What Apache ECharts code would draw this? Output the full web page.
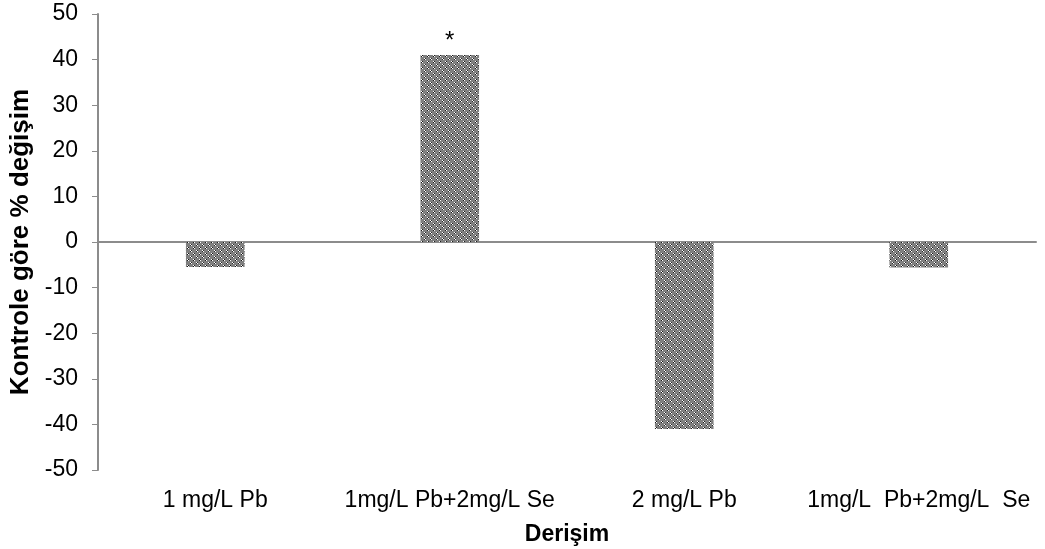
<!DOCTYPE html>
<html>
<head>
<meta charset="utf-8">
<script src="https://cdn.jsdelivr.net/npm/echarts@6/dist/echarts.min.js"></script>
<style>
  html, body { margin: 0; padding: 0; background: #fff; }
  #chart { width: 1045px; height: 549px; }
</style>
</head>
<body>
<div id="chart"></div>
<script>
const categories = ['1 mg/L Pb', '1mg/L Pb+2mg/L Se', '2 mg/L Pb', '1mg/L  Pb+2mg/L  Se'];
const changeValues = [-5.5, 41, -41, -5.6];
const markers = ['', '*', '', ''];
const yTicks = { min: -50, max: 50, interval: 10 };

// dotted grey fill like the original Excel pattern
function makePattern() {
    const c = document.createElement('canvas');
    c.width = 6; c.height = 6;
    const ctx = c.getContext('2d');
    ctx.fillStyle = '#808080';
    ctx.fillRect(0, 0, 6, 6);
    const px = (x, y, col) => { ctx.fillStyle = col; ctx.fillRect(x, y, 1, 1); };
    px(1, 1, '#ffffff'); px(2, 2, '#ffffff');
    px(2, 1, '#1a1a1a'); px(1, 2, '#1a1a1a');
    px(4, 4, '#ffffff'); px(5, 5, '#ffffff');
    px(5, 4, '#2a2a2a'); px(4, 5, '#2a2a2a');
    return c;
}

const chart = echarts.init(document.getElementById('chart'));
const font = 'Liberation Sans, Arial, sans-serif';
const axisGrey = '#8c8c8c';

chart.setOption({
    animation: false,
    backgroundColor: '#fff',
    grid: { left: 98, right: 9, top: 14, bottom: 79, outerBoundsMode: 'none' },
    xAxis: [
        {
            type: 'category',
            data: categories,
            position: 'bottom',
            axisLine: { show: false, onZero: false },
            axisTick: { show: false },
            axisLabel: { color: '#000', fontSize: 23, fontFamily: font, margin: 19, interval: 0 },
            name: 'Derişim',
            nameLocation: 'middle',
            nameGap: 53,
            nameTextStyle: { color: '#000', fontSize: 23, fontWeight: 'bold', fontFamily: font }
        },
        {
            // line through zero, no labels
            type: 'category',
            data: categories,
            position: 'bottom',
            axisLine: { show: true, onZero: true, lineStyle: { color: axisGrey, width: 2 } },
            axisTick: { show: false },
            axisLabel: { show: false }
        }
    ],
    yAxis: {
        type: 'value',
        min: yTicks.min,
        max: yTicks.max,
        interval: yTicks.interval,
        axisLine: { show: true, lineStyle: { color: axisGrey, width: 2 } },
        axisTick: { show: true, length: 6, lineStyle: { color: axisGrey, width: 1 } },
        splitLine: { show: false },
        axisLabel: { color: '#000', fontSize: 23, fontFamily: font, margin: 20 },
        name: 'Kontrole göre % değişim',
        nameLocation: 'middle',
        nameGap: 63,
        nameTextStyle: { color: '#000', fontSize: 26, fontWeight: 'bold', fontFamily: font }
    },
    series: [{
        type: 'bar',
        xAxisIndex: 0,
        barWidth: '25%',
        data: changeValues.map((v, i) => ({
            value: v,
            label: {
                show: markers[i] !== '',
                position: 'top',
                distance: 2,
                formatter: markers[i],
                color: '#000',
                fontSize: 24,
                fontFamily: font
            }
        })),
        itemStyle: { color: { image: makePattern(), repeat: 'repeat' } }
    }]
});
</script>
</body>
</html>
